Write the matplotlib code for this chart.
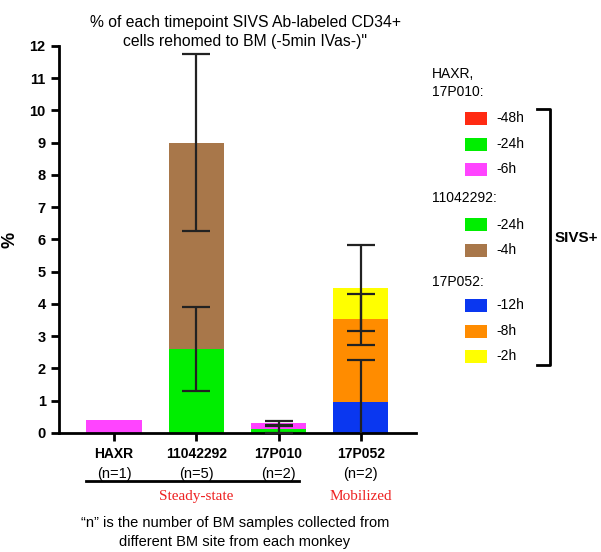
import numpy as np
import matplotlib.pyplot as plt

plt.rcParams['font.family'] = ['Liberation Sans', 'DejaVu Sans']

# Data
monkeys = ["HAXR", "11042292", "17P010", "17P052"]
n_samples = ["(n=1)", "(n=5)", "(n=2)", "(n=2)"]

# stacked segments per monkey: value, error, colour
c_red = "#ff2a12"
c_green = "#00ee00"
c_pink = "#ff44ff"
c_brown = "#a8774a"
c_blue = "#0a37f0"
c_orange = "#ff8c00"
c_yellow = "#ffff00"

haxr_vals = [0.4]
haxr_errs = [0.0]
haxr_cols = [c_pink]

m110_vals = [2.6, 6.4]
m110_errs = [1.3, 2.75]
m110_cols = [c_green, c_brown]

p010_vals = [0.12, 0.18]
p010_errs = [0.13, 0.07]
p010_cols = [c_green, c_pink]

p052_vals = [0.95, 2.57, 0.98]
p052_errs = [1.3, 0.78, 1.33]
p052_cols = [c_blue, c_orange, c_yellow]

stacks = [
    (haxr_vals, haxr_errs, haxr_cols),
    (m110_vals, m110_errs, m110_cols),
    (p010_vals, p010_errs, p010_cols),
    (p052_vals, p052_errs, p052_cols),
]

legend_groups = [
    ("HAXR,\n17P010:", ["-48h", "-24h", "-6h"], [c_red, c_green, c_pink]),
    ("11042292:", ["-24h", "-4h"], [c_green, c_brown]),
    ("17P052:", ["-12h", "-8h", "-2h"], [c_blue, c_orange, c_yellow]),
]

fig = plt.figure(figsize=(6.01, 5.52), dpi=100)
ax = fig.add_axes([0.098, 0.2156, 0.594, 0.7011])

x = np.arange(len(monkeys))
width = 0.67
for i, (vals, errs, cols) in enumerate(stacks):
    bottom = 0.0
    for v, e, c in zip(vals, errs, cols):
        ax.bar(x[i], v, width, bottom=bottom, color=c, edgecolor="none", zorder=2)
        top = bottom + v
        if e > 0:
            ax.errorbar(x[i], top, yerr=e, fmt="none", ecolor="#222222",
                        elinewidth=1.6, capsize=10, capthick=1.6, zorder=3)
        bottom = top

ax.set_xlim(-0.67, 3.67)
ax.set_ylim(0, 12)
ax.set_yticks(np.arange(0, 13, 1))
ax.set_xticks(x)
ax.set_xticklabels([])
for s in ["top", "right"]:
    ax.spines[s].set_visible(False)
ax.spines["left"].set_linewidth(2)
ax.spines["bottom"].set_linewidth(2)
ax.tick_params(axis="both", width=2, length=6, labelsize=10.5)
for lab in ax.get_yticklabels():
    lab.set_fontweight("bold")
ax.set_ylabel("%", fontsize=13, fontweight="bold", labelpad=8)

# x labels
for i in range(len(monkeys)):
    ax.text(x[i], -0.42, monkeys[i], ha="center", va="top", fontsize=10,
            fontweight="bold", clip_on=False)
    ax.text(x[i], -1.05, n_samples[i], ha="center", va="top", fontsize=10.5,
            clip_on=False)

# steady-state underline and group names
ax.plot([-0.34, 2.25], [-1.48, -1.48], color="black", lw=2, clip_on=False)
ax.text(1.0, -1.78, "Steady-state", ha="center", va="top", color="#ee2222",
        fontsize=11, family="Liberation Serif", clip_on=False)
ax.text(3.0, -1.78, "Mobilized", ha="center", va="top", color="#ee2222",
        fontsize=11, family="Liberation Serif", clip_on=False)

# title and footnote
fig.text(0.408, 0.973, "% of each timepoint SIVS Ab-labeled CD34+\ncells rehomed to BM (-5min IVas-)\"",
         ha="center", va="top", fontsize=11.3, linespacing=1.3)
fig.text(0.391, 0.065, "\u201cn\u201d is the number of BM samples collected from\ndifferent BM site from each monkey",
         ha="center", va="top", fontsize=10.5, linespacing=1.4)

# custom legend
W, H = 601, 552
def fx(px):
    return px / W
def fy(py):
    return 1 - py / H

rows_y = [[118, 144, 169], [225, 250], [305, 331, 356]]
title_y = [83, 198, 282]
for (title, labels, cols), ty, ys in zip(legend_groups, title_y, rows_y):
    fig.text(fx(432), fy(ty), title, ha="left", va="center", fontsize=10,
             linespacing=1.3)
    for lab, c, yy in zip(labels, cols, ys):
        fig.patches.append(plt.Rectangle((fx(465), fy(yy + 6.5)), 22 / W, 13 / H,
                                         transform=fig.transFigure,
                                         facecolor=c, edgecolor="none"))
        fig.text(fx(496), fy(yy), lab, ha="left", va="center", fontsize=10)

# bracket
fig.add_artist(plt.Line2D([fx(537), fx(550), fx(550), fx(537)],
                          [fy(109), fy(109), fy(365), fy(365)],
                          color="black", lw=2, transform=fig.transFigure))
fig.text(fx(555), fy(238), "SIVS+", ha="left", va="center", fontsize=11,
         fontweight="bold")

fig.savefig("out.png", dpi=100)
